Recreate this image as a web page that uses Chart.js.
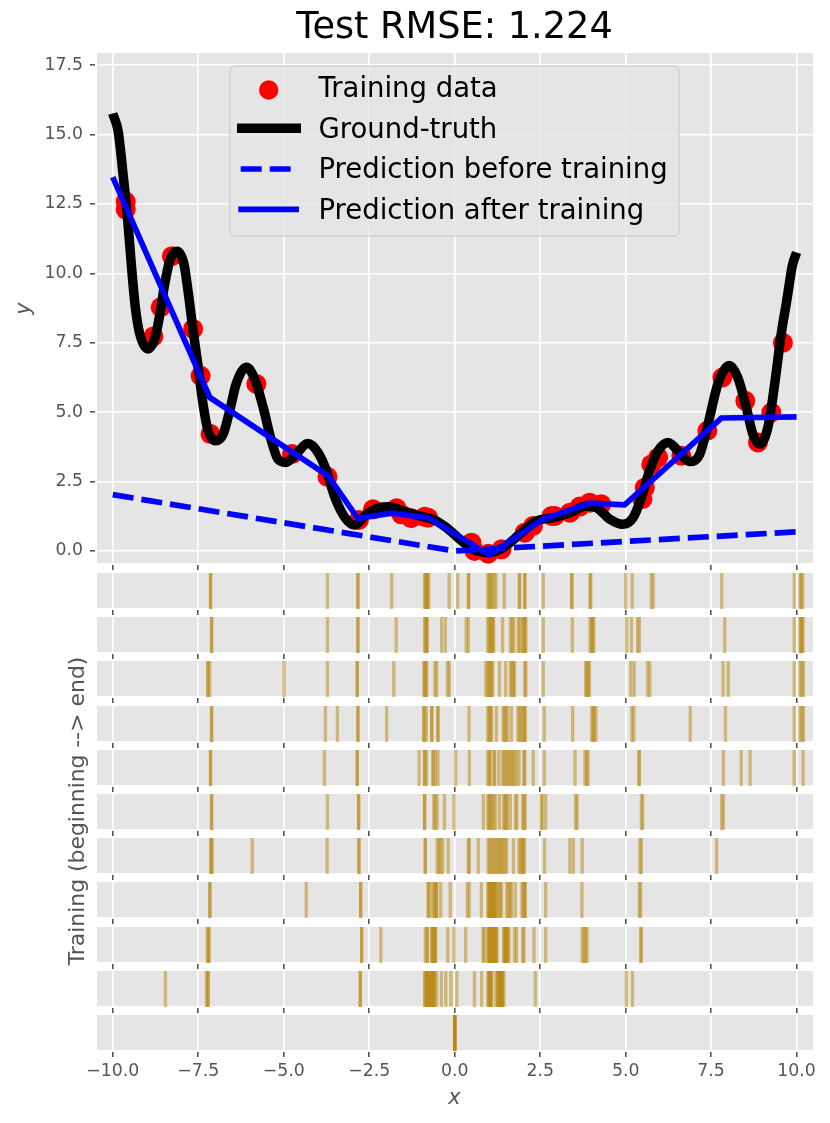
<!DOCTYPE html>
<html>
<head>
<meta charset="utf-8">
<title>Test RMSE</title>
<script src="https://cdn.jsdelivr.net/npm/chart.js@4"></script>
<style>
  html, body { margin: 0; padding: 0; background: #fff; }
  body { position: relative; width: 830px; height: 1123px; overflow: hidden; }
  canvas { position: absolute; left: 0; }
</style>
</head>
<body>
<script>
// tick labels
const xTicks = [-10, -7.5, -5, -2.5, 0, 2.5, 5, 7.5, 10];
const xTickLabels = ["\u221210.0", "\u22127.5", "\u22125.0", "\u22122.5", "0.0", "2.5", "5.0", "7.5", "10.0"];
const yTicks = [0, 2.5, 5, 7.5, 10, 12.5, 15, 17.5];
const yTickLabels = ["0.0", "2.5", "5.0", "7.5", "10.0", "12.5", "15.0", "17.5"];

// top panel, values
const truthX = [-10, -9.84, -9.69, -9.57, -9.45, -9.34, -9.21, -8.97, -8.77, -8.62, -8.48, -8.33, -8.12, -7.92, -7.8, -7.65, -7.5, -7.36, -7.21, -6.99, -6.77, -6.58, -6.39, -6.09, -5.85, -5.6, -5.36, -5.17, -4.94, -4.68, -4.29, -4, -3.75, -3.5, -3.17, -2.92, -2.58, -2.19, -1.9, -1.51, -1.02, -0.63, -0.24, 0.15, 0.54, 0.98, 1.42, 1.9, 2.39, 2.88, 3.37, 3.85, 4.15, 4.54, 4.91, 5.22, 5.46, 5.7, 5.95, 6.24, 6.53, 6.87, 7.17, 7.41, 7.7, 8.04, 8.28, 8.53, 8.72, 8.92, 9.16, 9.36, 9.55, 9.71, 9.88, 10];
const truthY = [15.76, 15.1, 13.47, 12.03, 10.22, 8.78, 7.82, 7.28, 7.65, 8.54, 9.62, 10.47, 10.8, 10.35, 9.38, 7.94, 6.62, 5.29, 4.33, 3.97, 4.21, 5.05, 6.02, 6.62, 6.2, 5.17, 3.97, 3.31, 3.19, 3.43, 3.87, 3.55, 2.89, 1.92, 1.14, 0.94, 1.32, 1.56, 1.59, 1.44, 1.26, 1.14, 0.84, 0.42, 0.06, -0.06, 0.12, 0.6, 1.08, 1.2, 1.38, 1.62, 1.56, 1.14, 0.96, 1.2, 1.92, 2.89, 3.61, 3.91, 3.61, 3.22, 3.49, 4.57, 6.02, 6.68, 6.25, 5.17, 4.21, 3.85, 4.45, 6.02, 7.82, 9, 10.3, 10.75];
const trainX = [-9.62, -9.62, -8.81, -8.6, -8.27, -7.65, -7.43, -7.14, -5.8, -4.76, -3.72, -2.8, -2.39, -1.7, -1.56, -1.27, -0.88, -0.78, 0.49, 0.58, 0.98, 1.37, 2.05, 2.29, 2.83, 2.93, 3.37, 3.66, 3.95, 4.29, 5.49, 5.56, 5.75, 5.95, 6.63, 7.39, 7.83, 8.5, 8.87, 9.26, 9.6];
const trainY = [12.59, 12.3, 7.73, 8.78, 10.62, 8, 6.31, 4.21, 6.02, 3.49, 2.67, 1.12, 1.5, 1.54, 1.32, 1.18, 1.23, 1.2, 0.3, 0, -0.1, 0.06, 0.66, 0.9, 1.26, 1.26, 1.38, 1.6, 1.74, 1.68, 1.87, 2.28, 3.12, 3.37, 3.43, 4.33, 6.25, 5.41, 3.91, 4.99, 7.5];
const beforeX = [-10, 0, 10];
const beforeY = [2.03, 0, 0.69];
const afterX = [-10, -7.16, -3.7, -2.83, -1.85, -0.78, 1.02, 2.58, 3.95, 4.97, 7.8, 10];
const afterY = [13.47, 5.53, 2.71, 1.17, 1.36, 1.2, -0.14, 1.14, 1.72, 1.66, 4.79, 4.83];

// rug strips, top one is the end of training
const strip01 = [-7.14, -7.14, -3.72, -2.83, -2.83, -1.84, -0.88, -0.85, -0.82, -0.79, -0.76, -0.16, 0.09, 0.4, 0.41, 0.97, 1.01, 1.05, 1.09, 1.15, 1.21, 1.45, 1.89, 1.9, 2.04, 2.06, 2.59, 3.42, 3.43, 3.96, 3.98, 5, 5.19, 5.75, 5.81, 7.81, 9.93, 10.1, 10.14, 10.18];
const strip02 = [-7.11, -7.11, -3.72, -2.83, -2.83, -1.71, -0.88, -0.85, -0.82, -0.8, -0.38, -0.27, 0.34, 0.4, 0.97, 1.01, 1.05, 1.08, 1.12, 1.14, 1.4, 1.63, 1.68, 1.73, 1.86, 1.91, 1.98, 2.02, 2.06, 2.08, 2.59, 3.44, 3.96, 4, 4.04, 4.07, 5.03, 5.17, 5.35, 5.4, 7.9, 9.93, 10.1, 10.13, 10.16, 10.19];
const strip03 = [-7.22, -7.22, -7.16, -4.99, -3.72, -2.85, -2.85, -1.78, -0.89, -0.89, -0.84, -0.82, -0.58, -0.53, -0.21, -0.16, 0.91, 0.97, 1, 1.04, 1.08, 1.11, 1.31, 1.49, 1.63, 1.68, 1.72, 1.75, 2.05, 2.08, 2.59, 3.83, 3.87, 3.91, 3.94, 5.15, 5.25, 5.64, 5.71, 7.85, 8, 9.93, 10.1, 10.16, 10.2];
const strip04 = [-7.11, -7.11, -3.78, -3.43, -2.83, -2.83, -1.99, -0.9, -0.9, -0.83, -0.67, -0.67, -0.49, -0.49, 0.42, 0.97, 1.01, 1.05, 1.08, 1.22, 1.42, 1.46, 1.5, 1.55, 1.66, 1.85, 1.9, 1.95, 2.01, 2.04, 2.07, 2.62, 3.45, 4.01, 4.05, 4.08, 4.13, 5.18, 5.24, 6.89, 7.92, 9.93, 10.1, 10.16, 10.2];
const strip05 = [-7.14, -7.14, -3.81, -2.85, -2.85, -1.04, -0.88, -0.88, -0.82, -0.63, -0.63, -0.56, -0.49, 0.03, 0.43, 0.97, 1.01, 1.05, 1.15, 1.17, 1.29, 1.4, 1.45, 1.5, 1.55, 1.6, 1.65, 1.7, 1.74, 1.81, 1.88, 2.02, 2.05, 2.3, 2.62, 3.52, 3.81, 3.86, 3.9, 5.39, 5.4, 7.86, 8.38, 8.64, 9.93, 10.19];
const strip06 = [-7.11, -7.11, -3.72, -2.81, -2.81, -0.88, -0.88, -0.61, -0.57, -0.51, -0.3, -0.02, 0.84, 0.97, 1.01, 1.05, 1.08, 1.14, 1.19, 1.31, 1.43, 1.47, 1.51, 1.54, 1.63, 1.78, 1.82, 1.99, 2.03, 2.06, 2.53, 2.56, 2.66, 3.54, 3.58, 5.46, 5.5, 7.81, 7.86];
const strip07 = [-7.13, -7.13, -7.09, -5.92, -3.73, -2.8, -2.8, -0.86, -0.86, -0.51, -0.46, -0.41, -0.35, -0.19, 0.4, 0.43, 0.69, 0.98, 1.03, 1.08, 1.13, 1.18, 1.23, 1.28, 1.33, 1.37, 1.42, 1.47, 1.52, 1.72, 1.88, 1.93, 1.97, 2.01, 2.04, 2.63, 3.37, 3.47, 3.73, 5.42, 5.46, 7.66];
const strip08 = [-7.16, -7.16, -4.34, -2.75, -2.75, -0.77, -0.77, -0.68, -0.59, -0.59, -0.53, -0.53, -0.41, -0.13, 0.37, 0.43, 0.78, 0.98, 0.98, 1.03, 1.03, 1.08, 1.08, 1.13, 1.13, 1.18, 1.18, 1.23, 1.28, 1.33, 1.37, 1.52, 1.57, 1.62, 1.66, 1.77, 1.97, 2.01, 2.05, 2.07, 2.66, 3.72, 5.4, 5.44];
const strip09 = [-7.24, -7.19, -7.19, -2.72, -2.72, -2.16, -0.86, -0.8, -0.8, -0.67, -0.67, -0.61, -0.61, -0.56, -0.56, -0.2, -0.02, 0.32, 0.83, 0.87, 0.98, 0.98, 1.03, 1.03, 1.08, 1.08, 1.13, 1.13, 1.18, 1.18, 1.23, 1.23, 1.44, 1.44, 1.49, 1.49, 1.54, 1.54, 1.59, 1.75, 1.81, 1.99, 2.03, 2.32, 2.66, 3.73, 3.78, 3.83, 3.87, 5.44, 5.46];
const strip10 = [-8.46, -7.26, -7.21, -7.21, -2.76, -2.76, -0.87, -0.87, -0.82, -0.82, -0.77, -0.77, -0.72, -0.72, -0.67, -0.67, -0.62, -0.62, -0.58, -0.53, -0.39, -0.26, -0.11, 0.06, 0.58, 0.79, 0.98, 0.98, 1.03, 1.03, 1.08, 1.08, 1.2, 1.26, 1.26, 1.31, 1.31, 1.35, 1.35, 1.4, 1.4, 1.44, 2.36, 5.02, 5.2];
const strip11 = [0, 0, 0, 0, 0, 0];
const strips = [strip01, strip02, strip03, strip04, strip05, strip06, strip07, strip08, strip09, strip10, strip11];

// layout of the figure in page pixels
const plotLeft = 96, plotRight = 813, plotTop = 53, plotBottom = 564;
const stripTop = 573, stripHeight = 36, stripStep = 44.2, stripTickRoom = 8;
const xMin = -10.49, xMax = 10.48;
const grey = "#E5E5E5", tickGrey = "#555555", rugColor = "rgba(184,134,11,0.5)";
const fontName = "'DejaVu Sans'";

function toPoints(xs, ys) {
  return xs.map((x, i) => ({ x: x, y: ys[i] }));
}

function makeCanvas(top, height) {
  const c = document.createElement("canvas");
  c.width = 830;
  c.height = height;
  c.style.top = top + "px";
  c.style.width = "830px";
  c.style.height = height + "px";
  document.body.appendChild(c);
  return c;
}

const panelBackground = {
  id: "panelBackground",
  beforeDraw(chart) {
    const a = chart.chartArea;
    chart.ctx.save();
    chart.ctx.fillStyle = grey;
    chart.ctx.fillRect(a.left + 1, a.top, a.right - a.left - 1, a.bottom - a.top);
    chart.ctx.restore();
  }
};

// matplotlib style legend box sitting inside the top panel
const legendBox = {
  id: "legendBox",
  afterDatasetsDraw(chart) {
    const ctx = chart.ctx;
    const sets = chart.data.datasets;
    ctx.save();
    ctx.beginPath();
    ctx.roundRect(230, 66, 449, 170, 5);
    ctx.fillStyle = "rgba(229,229,229,0.8)";
    ctx.fill();
    ctx.strokeStyle = "rgba(204,204,204,0.8)";
    ctx.lineWidth = 1.5;
    ctx.stroke();

    ctx.fillStyle = "#ff0000";
    ctx.beginPath();
    ctx.arc(268.7, 90, 9.7, 0, Math.PI * 2);
    ctx.fill();

    ctx.strokeStyle = "#000000";
    ctx.lineWidth = 9.5;
    ctx.beginPath(); ctx.moveTo(237, 128.3); ctx.lineTo(301, 128.3); ctx.stroke();

    ctx.strokeStyle = "#0000ff";
    ctx.lineWidth = 5.7;
    ctx.setLineDash([21, 8]);
    ctx.beginPath(); ctx.moveTo(240.7, 169); ctx.lineTo(291, 169); ctx.stroke();
    ctx.setLineDash([]);
    ctx.beginPath(); ctx.moveTo(238.3, 209.3); ctx.lineTo(299, 209.3); ctx.stroke();

    ctx.fillStyle = "#000000";
    ctx.font = "27.5px " + fontName;
    ctx.textAlign = "left";
    ctx.textBaseline = "alphabetic";
    const baselines = [97, 137.6, 178.2, 218.6];
    sets.forEach((s, i) => ctx.fillText(s.label, 318.5, baselines[i]));
    ctx.restore();
  }
};

// rotated label for the whole rug block
const stripLabel = {
  id: "stripLabel",
  afterDraw(chart) {
    const ctx = chart.ctx;
    ctx.save();
    ctx.translate(78, 811 - chart.canvas.offsetTop);
    ctx.rotate(-Math.PI / 2);
    ctx.fillStyle = tickGrey;
    ctx.font = "21.9px " + fontName;
    ctx.textAlign = "center";
    ctx.textBaseline = "middle";
    ctx.fillText("Training (beginning --> end)", 0, 0);
    ctx.restore();
  }
};

function xScale(height, showLabels) {
  return {
    type: "linear",
    min: xMin,
    max: xMax,
    afterBuildTicks: s => { s.ticks = xTicks.map(v => ({ value: v })); },
    afterFit: s => { s.height = height; },
    grid: { color: "#ffffff", lineWidth: 1.6, tickColor: tickGrey, tickWidth: 1.6, tickLength: 6 },
    border: { color: "#ffffff", width: 2 },
    ticks: {
      display: showLabels,
      autoSkip: false,
      maxRotation: 0,
      padding: 4,
      color: tickGrey,
      font: { family: fontName, size: 17.3 },
      callback: (v, i) => xTickLabels[i]
    },
    title: {
      display: showLabels,
      text: "x",
      color: tickGrey,
      font: { family: fontName, size: 20.8, style: "italic" },
      padding: { top: 0, bottom: 12 }
    }
  };
}

new Chart(makeCanvas(0, stripTop), {
  type: "line",
  data: {
    datasets: [
      {
        type: "scatter",
        label: "Training data",
        data: toPoints(trainX, trainY),
        backgroundColor: "#ff0000",
        borderWidth: 0,
        pointRadius: 10,
        order: 4
      },
      {
        label: "Ground-truth",
        data: toPoints(truthX, truthY),
        borderColor: "#000000",
        borderWidth: 9.5,
        pointRadius: 0,
        cubicInterpolationMode: "monotone",
        order: 3
      },
      {
        label: "Prediction before training",
        data: toPoints(beforeX, beforeY),
        borderColor: "#0000ff",
        borderWidth: 5.7,
        borderDash: [21, 8],
        pointRadius: 0,
        order: 2
      },
      {
        label: "Prediction after training",
        data: toPoints(afterX, afterY),
        borderColor: "#0000ff",
        borderWidth: 5.7,
        pointRadius: 0,
        order: 1
      }
    ]
  },
  options: {
    responsive: false,
    animation: false,
    events: [],
    layout: { autoPadding: false, padding: { left: 0, right: 830 - plotRight, top: 0, bottom: 0 } },
    plugins: {
      legend: { display: false },
      tooltip: { enabled: false },
      title: {
        display: true,
        text: "Test RMSE: 1.224",
        color: "#000000",
        fullSize: false,
        font: { family: fontName, size: 36.7, weight: "normal", lineHeight: 1 },
        padding: { top: 10, bottom: plotTop - 46.7 }
      }
    },
    scales: {
      x: xScale(stripTop - plotBottom, false),
      y: {
        type: "linear",
        min: -0.469,
        max: 17.94,
        afterBuildTicks: s => { s.ticks = yTicks.map(v => ({ value: v })); },
        // tick label overhang must not eat into the panel height
        afterFit: s => { s.width = plotLeft; s.paddingTop = 0; s.paddingBottom = 0; },
        grid: { color: "#ffffff", lineWidth: 1.6, tickColor: tickGrey, tickWidth: 1.6, tickLength: 6 },
        border: { color: "#ffffff", width: 2 },
        ticks: {
          autoSkip: false,
          padding: 7,
          color: tickGrey,
          font: { family: fontName, size: 17.3 },
          callback: (v, i) => yTickLabels[i]
        },
        title: {
          display: true,
          text: "y",
          color: tickGrey,
          font: { family: fontName, size: 20.8, style: "italic" },
          padding: { top: 12, bottom: 0 }
        }
      }
    }
  },
  plugins: [panelBackground, legendBox]
});

strips.forEach((values, i) => {
  const last = i === strips.length - 1;
  const top = Math.round(stripTop + stripStep * i);
  // the last canvas also carries the rotated label and the x axis text
  const canvasTop = last ? stripTop : top;
  const canvasHeight = last ? 1123 - stripTop : stripHeight + stripTickRoom;
  const axisRoom = last ? canvasHeight - (top - stripTop) - stripHeight : stripTickRoom;

  new Chart(makeCanvas(canvasTop, canvasHeight), {
    type: "scatter",
    data: {
      datasets: [{
        data: values.map(v => ({ x: v, y: 0.5 })),
        pointStyle: "line",
        rotation: 90,
        pointRadius: stripHeight / 2,
        borderColor: rugColor,
        borderWidth: 3.3,
        backgroundColor: rugColor
      }]
    },
    options: {
      responsive: false,
      animation: false,
      events: [],
      layout: { autoPadding: false, padding: { left: plotLeft, right: 830 - plotRight, top: top - canvasTop, bottom: 0 } },
      plugins: { legend: { display: false }, tooltip: { enabled: false } },
      scales: {
        x: xScale(axisRoom, last),
        y: { display: false, min: 0, max: 1 }
      }
    },
    plugins: last ? [panelBackground, stripLabel] : [panelBackground]
  });
});
</script>
</body>
</html>
